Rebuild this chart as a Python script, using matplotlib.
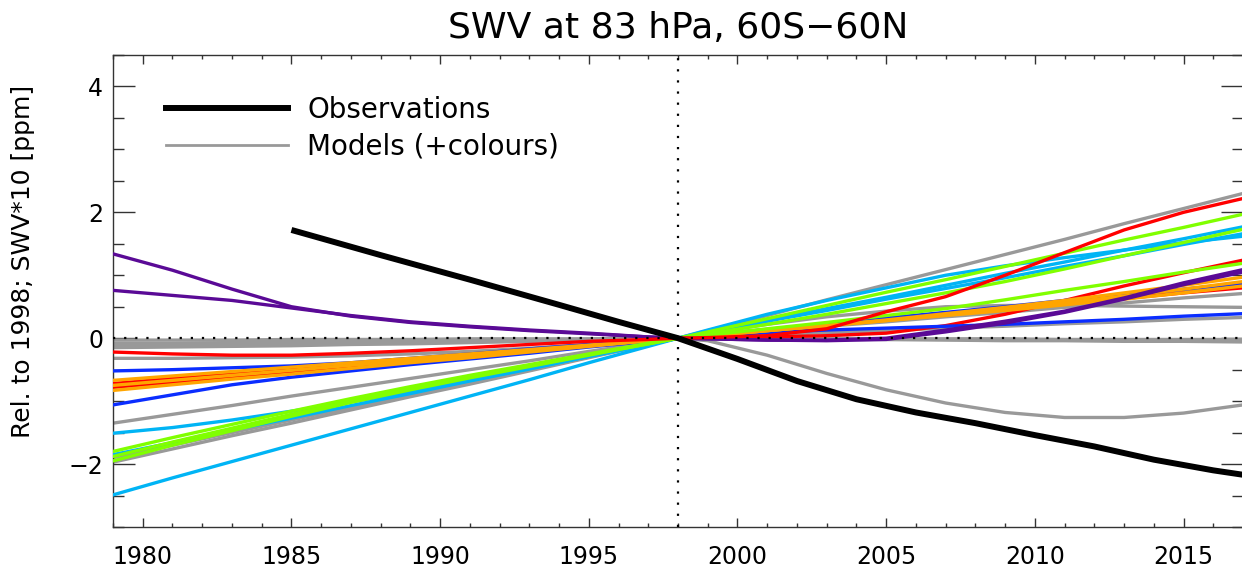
import matplotlib
matplotlib.use("Agg")
import matplotlib.pyplot as plt
from matplotlib.lines import Line2D
from matplotlib.ticker import MultipleLocator

plt.rcParams['font.family'] = ['DejaVu Sans']

# ---------------- data ----------------
OBS_YEARS = [1985, 1988, 1991, 1994, 1996, 1998, 2000, 2002, 2004, 2006,
             2008, 2010, 2012, 2014, 2016, 2017]
OBS_VALUES = [1.72, 1.32, 0.93, 0.53, 0.26, 0.00, -0.33, -0.68, -0.97, -1.18,
              -1.35, -1.54, -1.72, -1.93, -2.10, -2.17]

MODEL_YEARS = [1979, 1981, 1983, 1985, 1987, 1989, 1991, 1993, 1995, 1997, 1998,
               1999, 2001, 2003, 2005, 2007, 2009, 2011, 2013, 2015, 2017]

# grey models
g_top = [-1.97, -1.76, -1.55, -1.35, -1.14, -0.93, -0.73, -0.52, -0.31, -0.10, 0,
         0.12, 0.36, 0.61, 0.85, 1.09, 1.33, 1.57, 1.82, 2.06, 2.30]
g_dip = [-0.08, -0.08, -0.07, -0.07, -0.06, -0.05, -0.04, -0.03, -0.02, -0.01, 0,
         -0.04, -0.27, -0.56, -0.82, -1.03, -1.18, -1.26, -1.26, -1.19, -1.06]
g_mid_a = [-1.35, -1.21, -1.07, -0.92, -0.78, -0.64, -0.50, -0.36, -0.21, -0.07, 0,
           0.04, 0.11, 0.19, 0.26, 0.34, 0.41, 0.49, 0.56, 0.64, 0.71]
g_mid_b = [-0.78, -0.70, -0.62, -0.53, -0.45, -0.37, -0.29, -0.21, -0.12, -0.04, 0,
           0.08, 0.22, 0.34, 0.43, 0.50, 0.52, 0.52, 0.51, 0.50, 0.49]
g_low = [-0.32, -0.32, -0.31, -0.30, -0.28, -0.25, -0.21, -0.16, -0.10, -0.03, 0,
         0.02, 0.05, 0.09, 0.12, 0.16, 0.19, 0.23, 0.26, 0.30, 0.33]
g_zero_a = [-0.03, -0.03, -0.03, -0.02, -0.02, -0.02, -0.01, -0.01, -0.01, 0.00, 0,
            0.00, -0.01, -0.01, -0.02, -0.02, -0.02, -0.03, -0.03, -0.03, -0.03]
g_zero_b = [-0.15, -0.14, -0.13, -0.12, -0.10, -0.09, -0.07, -0.05, -0.03, -0.01, 0,
            0.00, -0.01, -0.02, -0.02, -0.03, -0.04, -0.04, -0.05, -0.05, -0.06]
g_zero_c = [-0.10, -0.10, -0.09, -0.08, -0.07, -0.06, -0.05, -0.04, -0.02, -0.01, 0,
            0.00, 0.00, 0.00, -0.01, -0.01, -0.01, -0.02, -0.02, -0.02, -0.02]
g_green = [-1.90, -1.70, -1.50, -1.30, -1.10, -0.90, -0.70, -0.50, -0.30, -0.10, 0,
           0.04, 0.13, 0.22, 0.31, 0.40, 0.49, 0.58, 0.67, 0.76, 0.85]

# coloured models
m_purple_a = [1.34, 1.08, 0.78, 0.50, 0.35, 0.25, 0.18, 0.12, 0.07, 0.02, 0,
              -0.01, -0.03, -0.03, 0.00, 0.13, 0.27, 0.43, 0.64, 0.88, 1.09]
m_purple_b = [0.76, 0.68, 0.60, 0.48, 0.36, 0.26, 0.19, 0.13, 0.08, 0.02, 0,
              -0.01, -0.03, -0.04, -0.02, 0.10, 0.24, 0.41, 0.62, 0.85, 1.05]
m_red_a = [-0.22, -0.25, -0.27, -0.27, -0.24, -0.20, -0.15, -0.10, -0.05, -0.02, 0,
           0.01, 0.04, 0.15, 0.42, 0.66, 1.00, 1.36, 1.72, 2.00, 2.22]
m_red_b = [-0.72, -0.64, -0.57, -0.49, -0.42, -0.34, -0.26, -0.19, -0.11, -0.04, 0,
           0.01, 0.02, 0.04, 0.08, 0.20, 0.38, 0.60, 0.83, 1.04, 1.24]
m_red_c = [-0.78, -0.70, -0.62, -0.53, -0.45, -0.37, -0.29, -0.21, -0.12, -0.04, 0,
           0.04, 0.13, 0.21, 0.29, 0.38, 0.46, 0.55, 0.63, 0.72, 0.80]
m_blue_a = [-0.52, -0.50, -0.47, -0.44, -0.39, -0.32, -0.25, -0.17, -0.10, -0.03, 0,
            0.03, 0.09, 0.13, 0.16, 0.19, 0.22, 0.26, 0.30, 0.35, 0.39]
m_blue_b = [-1.06, -0.90, -0.74, -0.62, -0.52, -0.42, -0.33, -0.24, -0.14, -0.05, 0,
            0.05, 0.14, 0.23, 0.32, 0.41, 0.50, 0.60, 0.69, 0.78, 0.87]
m_orange_a = [-0.67, -0.60, -0.53, -0.46, -0.39, -0.32, -0.25, -0.18, -0.11, -0.04, 0,
              0.03, 0.12, 0.20, 0.29, 0.39, 0.49, 0.60, 0.72, 0.84, 0.97]
m_orange_b = [-0.83, -0.74, -0.65, -0.57, -0.48, -0.39, -0.31, -0.22, -0.13, -0.04, 0,
              0.04, 0.12, 0.20, 0.28, 0.37, 0.46, 0.56, 0.67, 0.78, 0.90]
m_orange_c = [-0.75, -0.67, -0.59, -0.51, -0.43, -0.36, -0.28, -0.20, -0.12, -0.04, 0,
              0.04, 0.12, 0.20, 0.28, 0.36, 0.44, 0.53, 0.62, 0.72, 0.83]
m_green_a = [-1.95, -1.70, -1.47, -1.24, -1.02, -0.82, -0.63, -0.45, -0.27, -0.09, 0,
             0.10, 0.31, 0.52, 0.73, 0.93, 1.14, 1.35, 1.56, 1.76, 1.97]
m_green_b = [-1.88, -1.65, -1.43, -1.21, -1.00, -0.80, -0.61, -0.44, -0.26, -0.09, 0,
             0.05, 0.15, 0.25, 0.36, 0.47, 0.61, 0.76, 0.90, 1.05, 1.19]
m_green_c = [-1.80, -1.58, -1.37, -1.16, -0.96, -0.77, -0.59, -0.42, -0.25, -0.08, 0,
             0.07, 0.22, 0.38, 0.55, 0.72, 0.90, 1.10, 1.31, 1.52, 1.73]
m_cyan_a = [-2.49, -2.22, -1.96, -1.70, -1.44, -1.18, -0.92, -0.66, -0.39, -0.13, 0,
            0.13, 0.38, 0.60, 0.80, 1.00, 1.15, 1.28, 1.40, 1.52, 1.62]
m_cyan_b = [-1.51, -1.42, -1.30, -1.16, -1.01, -0.86, -0.67, -0.48, -0.29, -0.10, 0,
            0.09, 0.28, 0.47, 0.65, 0.84, 1.03, 1.21, 1.40, 1.58, 1.77]
m_cyan_c = [-1.85, -1.66, -1.46, -1.27, -1.07, -0.88, -0.68, -0.49, -0.29, -0.10, 0,
            0.09, 0.27, 0.44, 0.62, 0.79, 0.96, 1.14, 1.31, 1.49, 1.66]

GREY_MODELS = [g_top, g_dip, g_mid_a, g_mid_b, g_low, g_zero_a, g_zero_b,
               g_zero_c, g_green]
COLOUR_MODELS = [m_red_b, m_red_c, m_blue_a, m_blue_b, m_orange_a, m_orange_b,
                 m_orange_c, m_cyan_a, m_cyan_b, m_cyan_c, m_green_a, m_green_b,
                 m_green_c, m_purple_a, m_purple_b, m_red_a]
COLOUR_NAMES = ['red', 'red', 'blue', 'blue', 'orange', 'orange', 'orange',
                'cyan', 'cyan', 'cyan', 'green', 'green', 'green',
                'purple', 'purple', 'red']
PALETTE = {'orange': '#ffa500', 'blue': '#0a2dff', 'green': '#80ff00',
           'cyan': '#00b4f5', 'red': '#ff0000', 'purple': '#5a0a96',
           'grey': '#999999'}

TITLE = "SWV at 83 hPa, 60S\u221260N"
YLABEL = "Rel. to 1998; SWV*10 [ppm]"
LEGEND_LABELS = ["Observations", "Models (+colours)"]

# ---------------- plot ----------------
fig = plt.figure(figsize=(12.42, 5.73), dpi=100)
ax = fig.add_axes([0.091, 0.0803, 0.9098, 0.8237])

mlw = 2.4
for vals in GREY_MODELS:
    ax.plot(MODEL_YEARS, vals, color=PALETTE['grey'], lw=mlw,
            solid_capstyle='round', zorder=2)
for vals, cname in zip(COLOUR_MODELS, COLOUR_NAMES):
    ax.plot(MODEL_YEARS, vals, color=PALETTE[cname], lw=mlw,
            solid_capstyle='round', zorder=3)

ax.plot(OBS_YEARS, OBS_VALUES, color='black', lw=4.3, zorder=5,
        solid_capstyle='butt')

ax.axhline(0, color='black', lw=1.6, ls=(0, (1, 4)), zorder=6)
ax.axvline(1998, color='black', lw=1.6, ls=(0, (1, 4)), zorder=6)

ax.set_xlim(1979, 2017)
ax.set_ylim(-3, 4.5)

ax.xaxis.set_major_locator(MultipleLocator(5))
ax.xaxis.set_minor_locator(MultipleLocator(1))
ax.yaxis.set_major_locator(MultipleLocator(2))
ax.yaxis.set_minor_locator(MultipleLocator(0.5))

ax.tick_params(axis='both', which='both', direction='in', top=True,
               right=True, color='#333333', width=1.0)
ax.tick_params(axis='x', which='major', length=6.5, labelsize=17, pad=13)
ax.tick_params(axis='x', which='minor', length=3.2)
ax.tick_params(axis='y', which='major', length=15.8, labelsize=17, pad=7)
ax.tick_params(axis='y', which='minor', length=7.9)

for sp in ax.spines.values():
    sp.set_color('#333333')
    sp.set_linewidth(1.0)

ax.set_title(TITLE, fontsize=26, pad=12)
ax.set_ylabel(YLABEL, fontsize=18)
ax.yaxis.set_label_coords(-0.069, 0.563)

handles = [Line2D([], [], color='black', lw=4.3),
           Line2D([], [], color=PALETTE['grey'], lw=2.0)]
ax.legend(handles, LEGEND_LABELS, loc='upper left',
          bbox_to_anchor=(0.047, 0.913), frameon=False, fontsize=20,
          handlelength=4.4, handletextpad=0.68, labelspacing=0.3,
          borderpad=0, borderaxespad=0)

fig.savefig("out.png", dpi=100)
